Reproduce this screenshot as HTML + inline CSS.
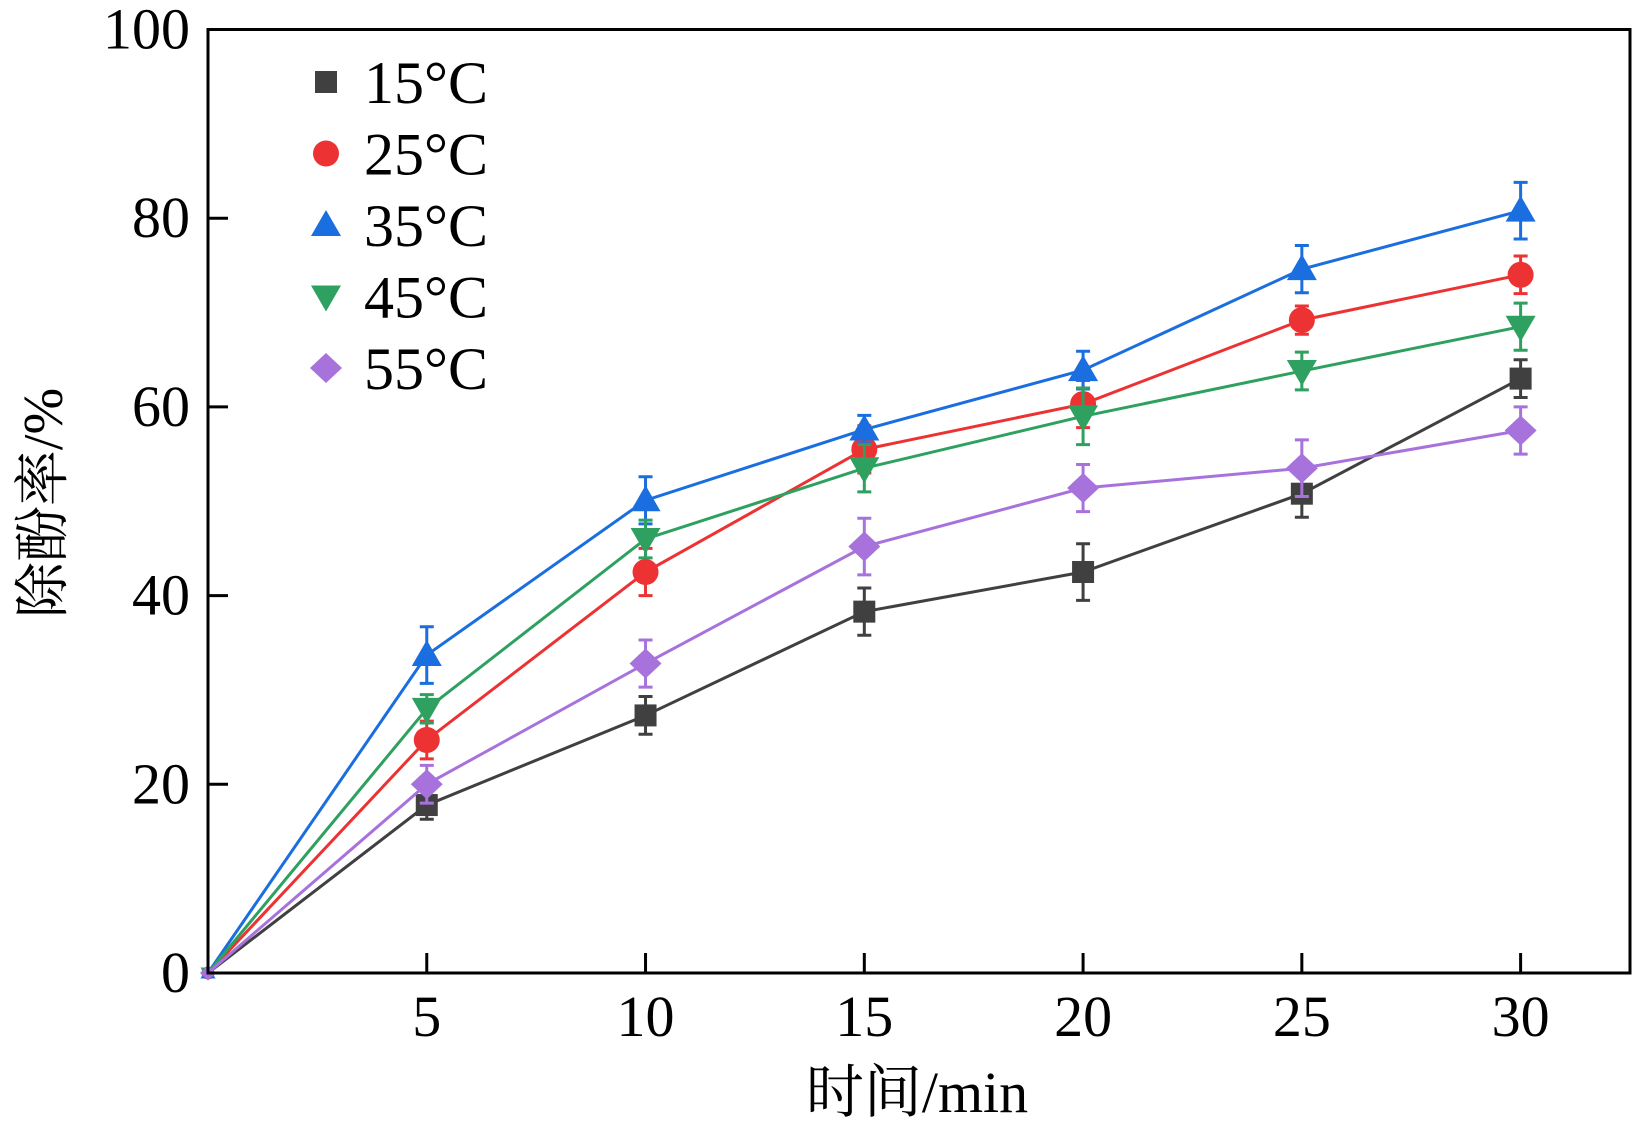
<!DOCTYPE html>
<html><head><meta charset="utf-8"><style>
html,body{margin:0;padding:0;background:#fff;}
svg{display:block;font-family:"Liberation Serif","Noto Serif CJK SC",serif;}
</style></head><body>
<svg id="chart" width="1642" height="1129" viewBox="0 0 1642 1129">
<g id="plot"></g>
</svg>
<script>
const times=[0,5,10,15,20,25,30];
const seriesNames=["15°C","25°C","35°C","45°C","55°C"];
const s15=[0,17.8,27.3,38.3,42.5,50.8,63.0];
const s25=[0,24.7,42.5,55.5,60.3,69.2,74.0];
const s35=[0,33.7,50.1,57.6,63.9,74.6,80.8];
const s45=[0,28.0,46.0,53.5,59.0,63.8,68.5];
const s55=[0,20.0,32.8,45.2,51.4,53.5,57.5];
const e15=[0,1.5,2.0,2.5,3.0,2.5,2.0];
const e25=[0,2.0,2.5,2.5,2.5,1.5,2.0];
const e35=[0,3.0,2.5,1.5,2.0,2.5,3.0];
const e45=[0,1.5,2.0,2.5,3.0,2.0,2.5];
const e55=[0,2.0,2.5,3.0,2.5,3.0,2.5];
const xTicks=[5,10,15,20,25,30];
const yTicks=[0,20,40,60,80,100];

const NS="http://www.w3.org/2000/svg";
const L=208,R=1630,T=29.5,B=973;
const xMax=32.5,yMax=100;
const xs=v=>L+v/xMax*(R-L);
const ys=v=>B-v/yMax*(B-T);
const g=document.getElementById('plot');
function mk(tag,attrs,parent){const e=document.createElementNS(NS,tag);for(const k in attrs)e.setAttribute(k,attrs[k]);(parent||g).appendChild(e);return e;}

const colors=["#404040","#ec3232","#1a6ee0","#2ea060","#a872dc"];
const shapes=["square","circle","up","down","diamond"];
const vals=[s15,s25,s35,s45,s55];
const errs=[e15,e25,e35,e45,e55];

function marker(shape,x,y,c,parent,s){
  s=s||1;
  if(shape==="square") return mk('rect',{x:x-11*s,y:y-11*s,width:22*s,height:22*s,fill:c},parent);
  if(shape==="circle") return mk('circle',{cx:x,cy:y,r:13*s,fill:c},parent);
  if(shape==="up") return mk('polygon',{points:`${x},${y-15*s} ${x+15*s},${y+11*s} ${x-15*s},${y+11*s}`,fill:c},parent);
  if(shape==="down") return mk('polygon',{points:`${x},${y+15*s} ${x+15*s},${y-11*s} ${x-15*s},${y-11*s}`,fill:c},parent);
  return mk('polygon',{points:`${x},${y-15*s} ${x+16*s},${y} ${x},${y+15*s} ${x-16*s},${y}`,fill:c},parent);
}

vals.forEach((arr,si)=>{
  const sg=mk('g',{});
  
  
  const pts=arr.map((v,i)=>xs(times[i])+','+ys(v)).join(' ');
  const ln=mk('polyline',{points:pts,fill:'none',stroke:colors[si],'stroke-width':3},sg);
  
  
  arr.forEach((v,i)=>{
    const x=xs(times[i]);const e=errs[si][i];
    if(e>0){
      const eb=mk('path',{d:`M${x},${ys(v-e)}V${ys(v+e)}M${x-7},${ys(v-e)}h14M${x-7},${ys(v+e)}h14`,stroke:colors[si],'stroke-width':3,fill:'none'},sg);
      
      
    }
    const m=marker(shapes[si],x,ys(v),colors[si],sg,times[i]===0?0.5:1);
    
    
  });
});

const fr=mk('rect',{x:L,y:T,width:R-L,height:B-T,fill:'none',stroke:'#000','stroke-width':3});



yTicks.forEach(t=>{
  const y=ys(t);
  if(t>0&&t<100){const tk=mk('line',{x1:L,x2:L+20,y1:y,y2:y,stroke:'#000','stroke-width':3});
  
  }
  const tx=mk('text',{x:L-18,y:y+19,'text-anchor':'end','font-size':58});
  tx.textContent=t;
  
  
});
xTicks.forEach(t=>{
  const x=xs(t);
  const tk=mk('line',{x1:x,x2:x,y1:B,y2:B-20,stroke:'#000','stroke-width':3});
  
  
  const tx=mk('text',{x:x,y:B+63,'text-anchor':'middle','font-size':58});
  tx.textContent=t;
  
  
});

const xt=mk('text',{x:917,y:1112,'text-anchor':'middle','font-size':58});
xt.textContent='时间/min';


const yt=mk('text',{x:0,y:0,'text-anchor':'middle','font-size':56,transform:'translate(62,503) rotate(-90)'});
yt.textContent='除酚率/%';



const lg=mk('g',{});


seriesNames.forEach((n,i)=>{
  const y=82+i*71.5;
  const eg=mk('g',{},lg);
  
  
  marker(shapes[i],326,y,colors[i],eg);
  const tx=mk('text',{x:364,y:y+21,'font-size':60},eg);
  tx.textContent=n;
});
</script>
</body></html>
